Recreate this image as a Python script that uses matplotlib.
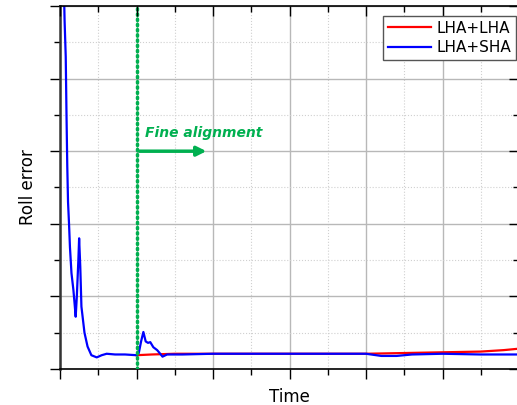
import matplotlib
matplotlib.use("Agg")
import matplotlib.pyplot as plt
from matplotlib.ticker import MultipleLocator, NullFormatter

# dados (unidades arbitrárias)
t_sha = [0.05, 0.06, 0.075, 0.085, 0.095, 0.105, 0.118, 0.13, 0.15, 0.175,
         0.19, 0.205, 0.22, 0.24, 0.25, 0.265, 0.28, 0.32, 0.36, 0.41,
         0.48, 0.545, 0.61, 0.72, 0.85, 1.0, 1.03, 1.06, 1.09, 1.12,
         1.15, 1.18, 1.22, 1.27, 1.31, 1.34, 1.4, 1.6, 2.0, 2.5,
         3.0, 3.5, 4.0, 4.2, 4.4, 4.6, 5.0, 5.5, 6.0]
y_sha = [5.3, 4.8, 4.3, 3.5, 2.8, 2.3, 2.0, 1.68, 1.32, 1.09,
         0.91, 0.72, 1.0, 1.5, 1.8, 1.41, 0.86, 0.5, 0.31, 0.19,
         0.16, 0.19, 0.21, 0.20, 0.20, 0.19, 0.22, 0.38, 0.51, 0.38,
         0.36, 0.37, 0.30, 0.26, 0.21, 0.17, 0.20, 0.20, 0.21, 0.21,
         0.21, 0.21, 0.21, 0.18, 0.18, 0.20, 0.21, 0.20, 0.20]

t_lha = [1.0, 1.2, 1.5, 2.0, 3.0, 4.0, 4.5, 5.0, 5.5, 5.8, 6.0]
y_lha = [0.19, 0.20, 0.21, 0.21, 0.21, 0.21, 0.22, 0.23, 0.24, 0.26, 0.28]

t_fine = 1.0
verde = '#00b050'

fig = plt.figure(figsize=(5.17, 4.05), dpi=100)
pos = [60/517, 36/405, 459/517, 363/405]

ax = fig.add_axes(pos)

ax.plot(t_lha, y_lha, color='red', lw=1.6, label='LHA+LHA')
ax.plot(t_sha, y_sha, color='blue', lw=1.6, label='LHA+SHA')

ax.axvline(t_fine, color=verde, lw=2.5, linestyle=(0, (0.4, 1.1)),
           dash_capstyle='round', zorder=3)
ax.annotate('', xy=(1.95, 3.0), xytext=(t_fine, 3.0),
            arrowprops=dict(arrowstyle='-|>', color=verde, lw=2.5, mutation_scale=14))
ax.text(1.11, 3.2, 'Fine alignment', color=verde, fontsize=10,
        fontweight='bold', fontstyle='italic')

ax.set_xlim(0, 6)
ax.set_ylim(0, 5)
for eixo in (ax.xaxis, ax.yaxis):
    eixo.set_major_locator(MultipleLocator(1))
    eixo.set_minor_locator(MultipleLocator(0.5))
    eixo.set_major_formatter(NullFormatter())

ax.grid(which='major', color='#b8b8b8', lw=1.0, linestyle='-')
ax.grid(which='minor', color='#d0d0d0', lw=0.8, linestyle=':')
ax.set_axisbelow(True)

# baixo/esquerda para fora
ax.tick_params(which='both', direction='out', top=False, right=False)
ax.tick_params(which='major', length=7, width=1)
ax.tick_params(which='minor', length=4, width=1)

for s in ax.spines.values():
    s.set_linewidth(1.2)
ax.spines['left'].set_color('#333333')
ax.spines['left'].set_linewidth(1.8)

ax.set_xlabel('Time', fontsize=12, labelpad=3)
ax.set_ylabel('Roll error', fontsize=12, labelpad=6)

# eixos auxiliares só para os ticks de cima/direita (para dentro), desenhados por cima
axt = fig.add_axes(pos, frameon=False)
axt.patch.set_alpha(0)
axt.set_xlim(0, 6)
axt.set_ylim(0, 5)
for eixo in (axt.xaxis, axt.yaxis):
    eixo.set_major_locator(MultipleLocator(1))
    eixo.set_minor_locator(MultipleLocator(0.5))
    eixo.set_major_formatter(NullFormatter())
axt.tick_params(which='both', direction='in', top=True, right=True,
                bottom=False, left=False, labelbottom=False, labelleft=False)
axt.tick_params(which='major', length=7, width=1, color='black')
axt.tick_params(which='minor', length=4, width=1, color='black')

# legenda por cima de tudo
h, l = ax.get_legend_handles_labels()
leg = axt.legend(h, l, loc='upper right', bbox_to_anchor=(0.9935, 0.9725), borderaxespad=0,
                 fontsize=11, fancybox=False, framealpha=1, edgecolor='#555555',
                 handlelength=2.8, labelspacing=0.3, borderpad=0.3, handletextpad=0.4)
leg.get_frame().set_linewidth(1.0)

plt.savefig('out.png', dpi=100)
